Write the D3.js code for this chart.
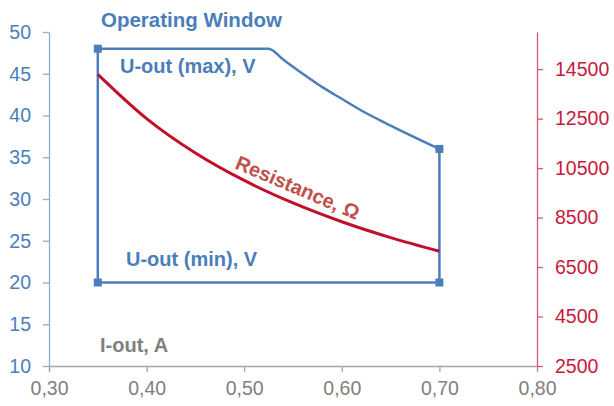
<!DOCTYPE html>
<html>
<head>
<meta charset="utf-8">
<script src="https://cdn.jsdelivr.net/npm/d3@7"></script>
<style>
  html, body { margin: 0; padding: 0; background: #fff; }
  svg { display: block; font-family: "Liberation Sans", Arial, sans-serif; }
</style>
</head>
<body>
<svg id="chart" width="614" height="406"></svg>
<script>
// ---- data ----
const xTicks = [0.30, 0.40, 0.50, 0.60, 0.70, 0.80];
const leftTicks = [10, 15, 20, 25, 30, 35, 40, 45, 50];
const rightTicks = [2500, 4500, 6500, 8500, 10500, 12500, 14500];

// U-out (max), V
const iMax = [0.35, 0.525, 0.54, 0.56, 0.58, 0.60, 0.62, 0.65, 0.70];
const uMax = [48, 48, 46.7, 45.0, 43.4, 42.0, 40.6, 38.8, 36.0];
// U-out (min), V
const iMin = [0.35, 0.70];
const uMin = [20, 20];
// Resistance, Ohm
const iRes = [0.35, 0.40, 0.45, 0.50, 0.55, 0.60, 0.65, 0.70];
const res  = [14290, 12500, 11110, 10000, 9090, 8330, 7690, 7140];

// ---- colours ----
const blue = "#4a7ebb";
const blueAxis = "#8fabd6";
const red = "#c0102a";
const redLabel = "#c8193a";
const redAxis = "#d9566e";
const redText = "#c0504d";
const gray = "#808080";
const grayAxis = "#a6a6a6";

const svg = d3.select("#chart");

const x = d3.scaleLinear().domain([0.30, 0.80]).range([49, 537]);
const yL = d3.scaleLinear().domain([10, 50]).range([366, 32]);
const yR = d3.scaleLinear().domain([2500, 16000]).range([366, 32]);

// X axis
const gx = svg.append("g").attr("transform", `translate(0,${yL(10)})`)
  .call(d3.axisBottom(x).tickValues(xTicks).tickSize(6).tickPadding(9)
        .tickFormat(d => d3.format(".2f")(d).replace(".", ",")));
gx.select(".domain").attr("stroke", grayAxis).attr("stroke-width", 1.3);
gx.selectAll(".tick line").attr("stroke", grayAxis).attr("stroke-width", 1.3);
gx.selectAll(".tick text").attr("fill", gray).attr("font-size", "19.5px")
  .attr("font-family", "Liberation Sans, Arial, sans-serif");

// Left axis
const gl = svg.append("g").attr("transform", `translate(${x(0.30)},0)`)
  .call(d3.axisLeft(yL).tickValues(leftTicks).tickSize(6).tickPadding(12).tickSizeOuter(0));
gl.select(".domain").attr("stroke", blueAxis).attr("stroke-width", 1.3);
gl.selectAll(".tick line").attr("stroke", blueAxis).attr("stroke-width", 1.3);
gl.selectAll(".tick text").attr("fill", blue).attr("font-size", "19.5px")
  .attr("font-family", "Liberation Sans, Arial, sans-serif");

// Right axis
const gr = svg.append("g").attr("transform", `translate(${x(0.80)},0)`)
  .call(d3.axisRight(yR).tickValues(rightTicks).tickSize(6).tickPadding(12).tickSizeOuter(0)
        .tickFormat(d3.format("d")));
gr.select(".domain").attr("stroke", redAxis).attr("stroke-width", 1.3);
gr.selectAll(".tick line").attr("stroke", redAxis).attr("stroke-width", 1.3);
gr.selectAll(".tick text").attr("fill", redLabel).attr("font-size", "19.5px")
  .attr("font-family", "Liberation Sans, Arial, sans-serif");

// ---- operating window ----
const maxPts = iMax.map((d, i) => [d, uMax[i]]);
const minPts = iMin.map((d, i) => [d, uMin[i]]);
const resPts = iRes.map((d, i) => [d, res[i]]);

const lineL = d3.line().x(d => x(d[0])).y(d => yL(d[1]));
const lineCurve = d3.line().x(d => x(d[0])).y(d => yL(d[1])).curve(d3.curveMonotoneX);
const lineR = d3.line().x(d => x(d[0])).y(d => yR(d[1])).curve(d3.curveMonotoneX);

// vertical edges
svg.append("path")
  .attr("d", lineL([[iMax[0], uMax[0]], [iMin[0], uMin[0]]]))
  .attr("fill", "none").attr("stroke", blue).attr("stroke-width", 2.5);
svg.append("path")
  .attr("d", lineL([[iMax[iMax.length - 1], uMax[uMax.length - 1]], [iMin[1], uMin[1]]]))
  .attr("fill", "none").attr("stroke", blue).attr("stroke-width", 2.5);

// max curve
svg.append("path").attr("d", lineCurve(maxPts))
  .attr("fill", "none").attr("stroke", blue).attr("stroke-width", 2.5);
// min line
svg.append("path").attr("d", lineL(minPts))
  .attr("fill", "none").attr("stroke", blue).attr("stroke-width", 2.5);

// resistance curve
svg.append("path").attr("d", lineR(resPts))
  .attr("fill", "none").attr("stroke", red).attr("stroke-width", 3);

// markers
const corners = [maxPts[0], maxPts[maxPts.length - 1], minPts[0], minPts[1]];
svg.selectAll("rect.marker").data(corners).join("rect")
  .attr("class", "marker")
  .attr("x", d => x(d[0]) - 4).attr("y", d => yL(d[1]) - 4)
  .attr("width", 8).attr("height", 8)
  .attr("fill", blue);

// ---- labels ----
function label(t, px, py, color, opts = {}) {
  const el = svg.append("text").text(t)
    .attr("x", px).attr("y", py)
    .attr("fill", color).attr("font-weight", "bold")
    .attr("font-size", opts.size || "20px")
    .attr("text-anchor", opts.anchor || "start");
  if (opts.rotate) el.attr("transform", `rotate(${opts.rotate},${px},${py})`);
  return el;
}
label("Operating Window", 101, 27, blue, { size: "20.5px" });
label("U-out (max), V", 120, 73, blue);
label("U-out (min), V", 126, 266, blue);
label("I-out, A", 100, 352, gray);
label("Resistance, Ω", 295, 194, redText, { anchor: "middle", rotate: 23 });
</script>
</body>
</html>
